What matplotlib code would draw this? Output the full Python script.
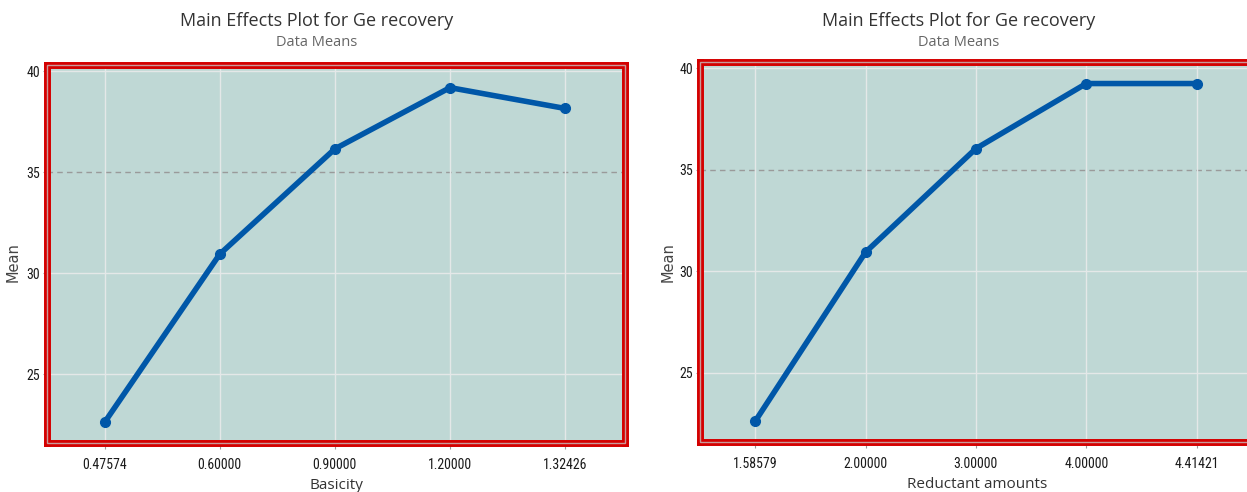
import matplotlib
matplotlib.use("Agg")
import matplotlib.pyplot as plt
from matplotlib.patches import Rectangle
import logging
logging.getLogger("matplotlib.font_manager").setLevel(logging.ERROR)

basicity_labels = ["0.47574", "0.60000", "0.90000", "1.20000", "1.32426"]
basicity_means = [22.62, 30.94, 36.15, 39.18, 38.15]
reductant_labels = ["1.58579", "2.00000", "3.00000", "4.00000", "4.41421"]
reductant_means = [22.62, 30.94, 36.04, 39.24, 39.24]
yticks = [25, 30, 35, 40]

title = "Main Effects Plot for Ge recovery"
subtitle = "Data Means"

W, H = 1247, 492
fig = plt.figure(figsize=(W / 100, H / 100), dpi=100)

def px_axes(x0, y0, x1, y1):
    return fig.add_axes([x0 / W, 1 - y1 / H, (x1 - x0) / W, (y1 - y0) / H])

line_color = "#0057a8"
bg = "#bfd8d5"
tick_fam = ["Liberation Sans Narrow", "Roboto Condensed", "Open Sans Condensed", "Liberation Sans"]

def panel(ax, labels, means, xlabel):
    xs = list(range(len(labels)))
    ax.set_facecolor(bg)
    ax.set_xlim(-0.5, 4.52)
    ax.set_ylim(21.6, 40.3)
    for y in yticks:
        if y == 35:
            ax.axhline(y, color="#9a9a9a", lw=1, ls=(0, (4, 3)), zorder=1)
        else:
            ax.axhline(y, color="#e4e8e8", lw=1, zorder=1)
    for x in xs:
        ax.axvline(x, color="#e4e8e8", lw=1, zorder=1)
    ax.plot(xs, means, color=line_color, lw=4, marker="o", ms=7, zorder=3,
            solid_capstyle="round")
    ax.set_xticks(xs)
    ax.set_xticklabels(labels, fontsize=10, family=tick_fam, color="#1a1a1a")
    ax.set_yticks(yticks)
    ax.set_yticklabels([str(v) for v in yticks], fontsize=10, family=tick_fam, color="#1a1a1a")
    ax.tick_params(axis="x", length=4, color="#999999", pad=7)
    ax.tick_params(axis="y", length=3, color="#999999", pad=2)
    ax.set_xlabel(xlabel, fontsize=11, family="Open Sans", color="#333333", labelpad=4)
    for s in ax.spines.values():
        s.set_color("#d40000")
        s.set_linewidth(5)
        s.set_zorder(5)
    r = Rectangle((0, 0), 1, 1, transform=ax.transAxes, fill=False,
                  ec="#c99a9a", lw=1, clip_on=False, zorder=6)
    ax.add_patch(r)

ax1 = px_axes(47, 65, 625, 443)
panel(ax1, basicity_labels, basicity_means, "Basicity")
ax2 = px_axes(700, 62, 1254, 442)
panel(ax2, reductant_labels, reductant_means, "Reductant amounts")

for x_c in (317, 959):
    fig.text(x_c / W, 1 - 21 / H, title, ha="center", va="center", fontsize=13,
             family="Open Sans", color="#333333")
    fig.text(x_c / W, 1 - 42 / H, subtitle, ha="center", va="center", fontsize=10.5,
             family="Open Sans", color="#666666")

fig.text(13 / W, 1 - 262 / H, "Mean", rotation=90, ha="center", va="center",
         fontsize=10.5, family="DejaVu Sans", color="#444444")
fig.text(668 / W, 1 - 262 / H, "Mean", rotation=90, ha="center", va="center",
         fontsize=10.5, family="DejaVu Sans", color="#444444")

fig.savefig("out.png", dpi=100)
